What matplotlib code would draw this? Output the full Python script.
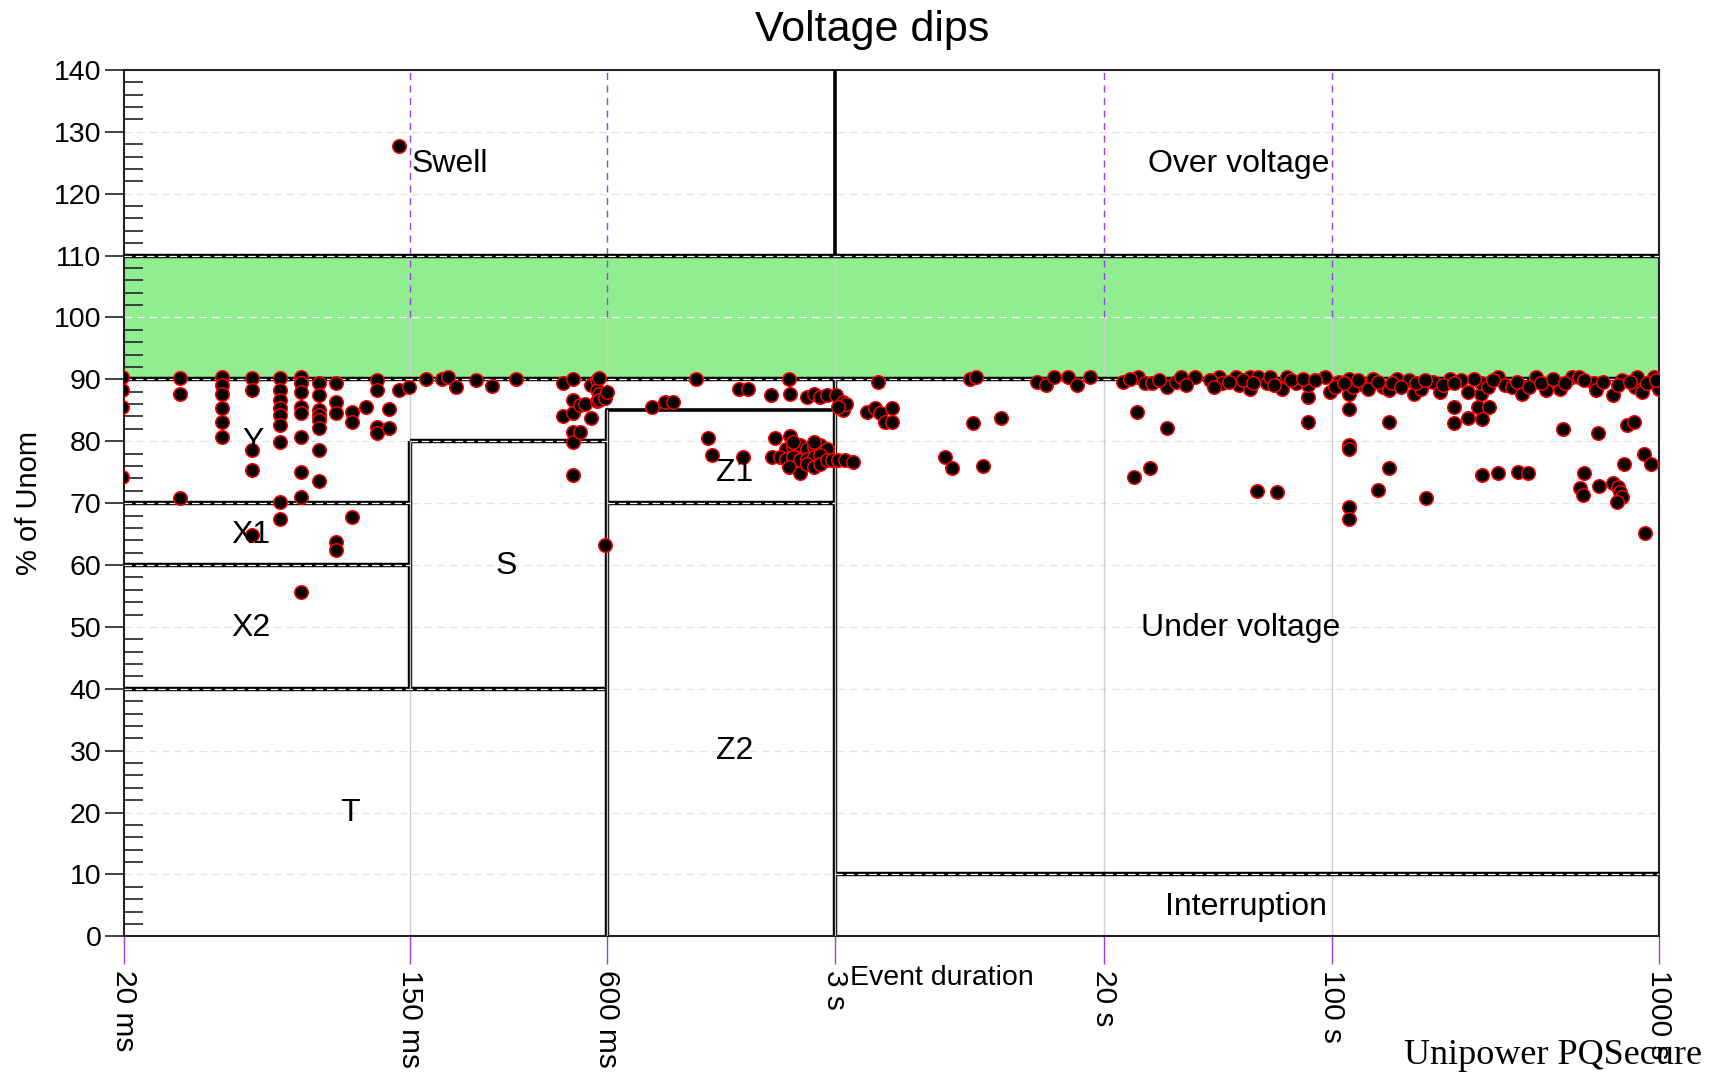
import matplotlib.pyplot as plt
from matplotlib.ticker import MultipleLocator, NullLocator, FixedLocator

plt.rcParams['font.family'] = ['Liberation Sans', 'DejaVu Sans']

# x axis ticks (event duration, seconds)
tick_sec = [0.02, 0.15, 0.6, 3, 20, 100, 1000]
tick_txt = ['20 ms', '150 ms', '600 ms', '3 s', '20 s', '100 s', '1000 s']

# events shorter than 150 ms
short_dur = [0.0196, 0.0196, 0.0196, 0.0196,
             0.0296, 0.0296, 0.0296,
             0.0397, 0.0397, 0.0397, 0.0397, 0.0397, 0.0397,
             0.0493, 0.0493, 0.0493, 0.0493, 0.0493,
             0.060, 0.060, 0.060, 0.060, 0.060, 0.060, 0.060, 0.060, 0.060,
             0.0694, 0.0694, 0.0694, 0.0694, 0.0694, 0.0694, 0.0694, 0.0694, 0.0694,
             0.079, 0.079, 0.079, 0.079, 0.079, 0.079, 0.079, 0.079,
             0.089, 0.089, 0.089, 0.089, 0.089,
             0.0997, 0.0997, 0.0997,
             0.110,
             0.1186, 0.1186, 0.1186, 0.1186,
             0.129, 0.129,
             0.139, 0.139,
             0.149]
short_pct = [90.4, 88.3, 85.6, 74.3,
             90.2, 87.7, 70.8,
             90.4, 89.1, 87.7, 85.3, 83.1, 80.7,
             90.2, 88.3, 78.6, 75.3, 64.8,
             90.2, 88.3, 86.7, 85.3, 84.2, 82.6, 79.9, 70.2, 67.4,
             90.4, 89.4, 88.0, 85.6, 84.5, 80.7, 75.1, 71.0, 55.7,
             89.4, 87.5, 85.0, 84.2, 83.4, 82.1, 78.6, 73.5,
             89.4, 86.3, 84.5, 63.8, 62.4,
             84.8, 83.1, 67.8,
             85.6,
             89.9, 88.3, 82.3, 81.3,
             85.2, 82.1,
             88.3, 127.7,
             88.7]

# events between 150 ms and 3 s
mid_dur = [0.168, 0.188, 0.196, 0.208, 0.238, 0.268, 0.316,
           0.441, 0.441, 0.474, 0.474, 0.474, 0.474, 0.474, 0.474,
           0.497, 0.497, 0.515, 0.539, 0.539, 0.56, 0.56, 0.56,
           0.57, 0.57, 0.57, 0.593, 0.593, 0.60,
           0.824, 0.906, 0.96, 1.13, 1.23, 1.26, 1.53, 1.63, 1.57,
           1.91, 1.92, 1.96, 2.17, 2.18, 2.18, 2.46, 2.58, 2.70, 2.83,
           2.13, 2.24, 2.35, 2.46, 2.58, 2.70, 2.83,
           2.04, 2.13, 2.24, 2.35, 2.46, 2.58, 2.70,
           2.17, 2.35, 2.46, 2.58, 2.70, 2.83, 2.93, 2.24, 2.58]
mid_pct = [90.0, 90.0, 90.4, 88.7, 89.9, 88.9, 90.0,
           89.4, 84.0, 90.0, 86.7, 84.5, 81.5, 79.9, 74.5,
           85.8, 81.5, 86.1, 89.1, 83.7, 89.9, 88.3, 86.5,
           90.2, 87.7, 86.7, 87.0, 63.2, 88.0,
           85.6, 86.4, 86.4, 90.0, 80.5, 77.8, 88.5, 88.4, 77.5,
           87.5, 77.5, 80.6, 90.0, 87.7, 80.8, 87.2, 87.7, 87.2, 87.5,
           78.8, 79.1, 79.4, 78.8, 79.1, 79.4, 78.8,
           77.5, 77.2, 77.5, 77.0, 77.2, 77.5, 77.8,
           75.9, 74.8, 76.4, 75.9, 76.4, 77.0, 77.0, 79.9, 79.9]

# events longer than 3 s, below the band
long_dur = [3.02, 3.18, 3.18, 3.24, 3.07, 3.07, 3.22, 3.41, 3.75, 3.98,
            4.12, 4.27, 4.48, 4.48, 4.06, 6.52, 6.84, 7.8, 7.96, 8.1,
            8.53, 9.67, 12.5, 13.3, 14.1, 15.5, 16.6, 18.1,
            25.2, 24.7, 27.6, 31.3, 58.8, 67.8, 84.4, 84.4, 113, 113,
            113, 113, 113, 113, 138, 149, 149, 194, 237, 237, 261, 279,
            285, 287, 303, 287, 323, 372, 398, 511, 591, 575, 588, 654,
            658, 724, 749, 760, 770, 745, 782, 801, 843, 902, 949, 909]
long_pct = [87.5, 86.4, 85.0, 86.1, 85.6, 77.0, 77.0, 76.7, 84.8, 85.3,
            84.5, 83.1, 85.3, 83.1, 89.6, 77.5, 75.6, 90.0, 82.9, 90.4,
            76.0, 83.7, 89.6, 89.1, 90.4, 90.4, 89.1, 90.4,
            84.8, 74.3, 75.6, 82.1, 72.0, 71.8, 87.2, 83.1, 87.7, 85.2,
            79.4, 78.8, 69.4, 67.5, 72.1, 75.6, 83.1, 70.9, 85.6, 82.9, 83.7, 85.6,
            87.7, 83.6, 85.6, 74.5, 74.8, 75.1, 74.8, 81.9, 74.8, 72.4, 71.3, 81.4,
            72.7, 73.2, 72.6, 71.8, 71.0, 70.2, 76.4, 82.6, 83.1, 78.0, 76.4, 65.1]

# long events just under 90 %
band_dur = [22.9, 25.5, 26.7, 28.1, 31.3, 33.3, 34.4, 38.1, 45.1, 45.9,
            50.8, 51.7, 56.2, 56.2, 59.2, 63.3, 64.4, 70.0, 72.5, 77.5,
            84.4, 95.0, 98.3, 105, 113, 116, 125, 133, 143, 149,
            158, 172, 178, 187, 203, 214, 229, 249, 261, 286,
            321, 338, 356, 381, 421, 451, 499, 543, 572, 633,
            644, 724, 775, 844, 858, 888, 966, 999,
            24.1, 29.5, 35.6, 42.2, 43.6, 48.3, 53.4, 57.2, 66.6, 75.0,
            81.6, 88.8, 102, 109, 120, 129, 138, 153, 163, 181,
            193, 218, 237, 271, 300, 311, 368, 401, 436, 475,
            516, 591, 677, 749, 815, 918, 983]
band_pct = [89.6, 90.4, 89.4, 89.4, 88.8, 89.6, 90.4, 90.4, 90.4, 89.4,
            90.4, 89.1, 90.4, 88.5, 90.4, 89.4, 90.4, 88.5, 90.4, 89.4,
            89.1, 90.4, 88.0, 89.6, 90.1, 88.8, 89.1, 90.1, 88.8, 88.3,
            90.1, 89.9, 87.7, 88.5, 89.6, 88.0, 90.1, 89.9, 88.0, 89.4,
            90.4, 89.1, 88.8, 87.7, 90.4, 88.3, 88.5, 90.4, 90.4, 89.4,
            88.3, 87.5, 89.9, 88.8, 90.4, 88.0, 90.4, 88.5,
            90.1, 89.9, 89.1, 89.9, 88.8, 89.6, 89.9, 89.4, 89.1, 89.9,
            90.1, 89.9, 88.8, 89.4, 89.9, 88.5, 89.6, 89.4, 88.8, 89.4,
            89.9, 89.1, 89.4, 90.1, 88.8, 89.9, 89.6, 88.8, 89.4, 90.1,
            89.4, 89.9, 89.6, 89.1, 89.6, 89.4, 89.9]

# region labels: text, duration, % of Unom
zone_txt = ['Y', 'X1', 'X2', 'T', 'S', 'Z1', 'Z2', 'Under voltage', 'Interruption', 'Over voltage']
zone_dur = [0.0495, 0.0489, 0.0489, 0.098, 0.296, 1.48, 1.48, 52.5, 54.6, 51.7]
zone_pct = [79.8, 64.8, 49.9, 19.9, 59.9, 74.9, 29.9, 49.9, 4.7, 124.8]

PURPLE = '#9a3cf0'


def dbl_h(ax, y, x0, x1):
    ax.plot([x0, x1], [y, y], color='black', lw=3.2, solid_capstyle='butt', zorder=3)
    ax.plot([x0, x1], [y, y], color='white', lw=0.9, ls=(0, (6, 3)), zorder=3.1)


def dbl_v(ax, x, y0, y1):
    ax.plot([x, x], [y0, y1], color='black', lw=3.2, solid_capstyle='butt', zorder=3)
    ax.plot([x, x], [y0, y1], color='#c4c4c4', lw=1.0, zorder=3.1)


fig = plt.figure(figsize=(17.11, 10.76), dpi=100)
ax = fig.add_axes([0.0727, 0.1298, 0.8967, 0.8052])
ax.set_xscale('log')
ax.set_xlim(0.02, 1000)
ax.set_ylim(0, 140)

# green "normal" band
ax.axhspan(90, 110, color='#90ee90', zorder=1, lw=0)

# horizontal grid
for g in range(10, 140, 10):
    if g in (90, 110):
        continue
    col = 'white' if g == 100 else '#e2e2e2'
    ax.axhline(g, color=col, lw=0.9, ls=(0, (6, 4)), zorder=1.5)

# vertical grid
for xv in [0.15, 0.6, 3, 20, 100]:
    top = 110 if xv == 3 else 100
    ax.plot([xv, xv], [0, top], color='#cfcfcf', lw=1.0, zorder=1.6)
    if xv != 3:
        ax.plot([xv, xv], [100, 140], color=PURPLE, lw=1.0, ls=(0, (5, 4)), zorder=1.6)
ax.plot([3, 3], [110, 140], color='black', lw=2.6, zorder=3)

# classification frames
dbl_h(ax, 90, 0.02, 1000)
dbl_h(ax, 110, 0.02, 1000)
dbl_h(ax, 70, 0.02, 0.15)
dbl_h(ax, 60, 0.02, 0.15)
dbl_h(ax, 40, 0.02, 0.6)
dbl_h(ax, 80, 0.15, 0.6)
dbl_h(ax, 70, 0.6, 3)
dbl_h(ax, 10, 3, 1000)
ax.plot([0.6, 3], [85, 85], color='black', lw=2.6, zorder=3)
dbl_v(ax, 0.15, 40, 80)
dbl_v(ax, 0.6, 0, 85)
dbl_v(ax, 3, 0, 90)

# events
for d, p in [(short_dur, short_pct), (mid_dur, mid_pct),
             (long_dur, long_pct), (band_dur, band_pct)]:
    ax.scatter(d, p, s=95, facecolor='black', edgecolor='red', linewidth=1.1, zorder=5)

for t, d, p in zip(zone_txt, zone_dur, zone_pct):
    ax.text(d, p, t, fontsize=23, ha='center', va='center', zorder=6)
ax.text(0.152, 124.8, 'Swell', fontsize=23, ha='left', va='center', zorder=6)

# axes styling
ax.xaxis.set_major_locator(FixedLocator(tick_sec))
ax.xaxis.set_minor_locator(NullLocator())
ax.set_xticklabels(tick_txt)
ax.tick_params(axis='x', which='major', direction='out', length=20, width=1.0,
               color=PURPLE, labelsize=21.5, labelrotation=-90, pad=4)

ax.yaxis.set_major_locator(MultipleLocator(10))
ax.yaxis.set_minor_locator(MultipleLocator(2))
ax.tick_params(axis='y', which='major', direction='out', length=13.5, width=1.3,
               color='#333333', labelsize=20.5, pad=3)
ax.tick_params(axis='y', which='minor', direction='in', length=14, width=1.3,
               color='#333333')
ax.set_ylabel('% of Unom', fontsize=21)
ax.yaxis.set_label_coords(-0.053, 0.5)

for sp in ax.spines.values():
    sp.set_linewidth(1.5)
    sp.set_color('#222222')

fig.text(0.510, 0.972, 'Voltage dips', fontsize=31, ha='center', va='center')
fig.text(0.497, 0.0914, 'Event duration', fontsize=20.5, ha='left', va='center')
fig.text(0.8208, 0.0186, 'Unipower PQSecure', fontsize=26, ha='left', va='center',
         family='Liberation Serif')

fig.savefig('out.png', dpi=100)
